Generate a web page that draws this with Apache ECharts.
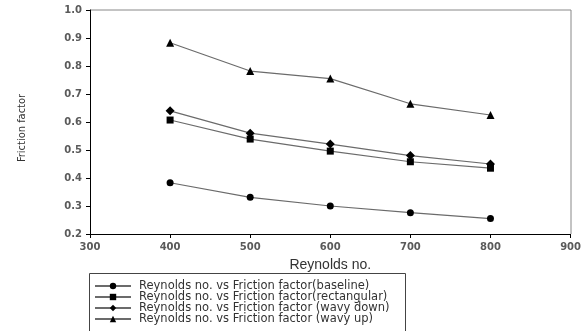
<!DOCTYPE html>
<html>
<head>
<meta charset="utf-8">
<script src="https://cdn.jsdelivr.net/npm/echarts@6/dist/echarts.min.js"></script>
<style>
  html, body { margin: 0; padding: 0; background: #fff; }
  #chart { width: 584px; height: 331px; }
</style>
</head>
<body>
<div id="chart"></div>
<script>
// Reynolds number (x) and friction factor for each configuration
const reynolds = [400, 500, 600, 700, 800];
const baseline = [0.383, 0.331, 0.300, 0.276, 0.255];
const rectangular = [0.607, 0.539, 0.496, 0.458, 0.435];
const wavyDown = [0.640, 0.560, 0.521, 0.480, 0.450];
const wavyUp = [0.883, 0.782, 0.755, 0.665, 0.625];
const seriesNames = [
  "Reynolds no. vs Friction factor(baseline)",
  "Reynolds no. vs Friction factor(rectangular)",
  "Reynolds no. vs Friction factor (wavy down)",
  "Reynolds no. vs Friction factor (wavy up)"
];

const myChart = echarts.init(document.getElementById("chart"));

function pairs(vals) {
  return reynolds.map((x, i) => [x, vals[i]]);
}

function makeSeries(name, vals, symbol, size) {
  return {
    name: name,
    type: "line",
    data: pairs(vals),
    symbol: symbol,
    symbolSize: size,
    showSymbol: true,
    lineStyle: { color: "#6b6b6b", width: 1.2 },
    itemStyle: { color: "#000" },
    emphasis: { disabled: true }
  };
}

const axisLabelStyle = {
  color: "#5a5a5a",
  fontFamily: "DejaVu Sans",
  fontWeight: "bold",
  fontSize: 10
};

const option = {
  animation: false,
  backgroundColor: "#fff",
  grid: { left: 90, right: 13, top: 10, bottom: 97 },
  xAxis: {
    type: "value",
    min: 300,
    max: 900,
    interval: 100,
    name: "Reynolds no.",
    nameLocation: "middle",
    nameGap: 24,
    nameTextStyle: {
      color: "#333",
      fontFamily: "Liberation Sans",
      fontSize: 14
    },
    axisLine: { show: true, lineStyle: { color: "#000", width: 1 } },
    axisTick: { show: true, length: 4, lineStyle: { color: "#000" } },
    axisLabel: Object.assign({ margin: 8 }, axisLabelStyle),
    splitLine: { show: false }
  },
  yAxis: {
    type: "value",
    min: 0.2,
    max: 1.0,
    interval: 0.1,
    name: "Friction factor",
    nameLocation: "middle",
    nameGap: 62,
    nameRotate: 90,
    nameTextStyle: {
      color: "#333",
      fontFamily: "'DejaVu Sans Condensed', 'Liberation Sans', sans-serif",
      fontSize: 11,
      padding: [0, 12, 0, 0]
    },
    axisLine: { show: true, lineStyle: { color: "#000", width: 1 } },
    axisTick: { show: true, length: 4, lineStyle: { color: "#000" } },
    axisLabel: Object.assign({
      margin: 8,
      formatter: v => v.toFixed(1)
    }, axisLabelStyle),
    splitLine: { show: false }
  },
  graphic: [
    {
      type: "polyline",
      shape: { points: [[90, 10], [571, 10], [571, 234]] },
      style: { stroke: "#888", lineWidth: 1, fill: null },
      silent: true
    },
    {
      type: "rect",
      shape: { x: 89.5, y: 273.5, width: 316, height: 70 },
      style: { stroke: "#444", lineWidth: 1, fill: null },
      silent: true
    }
  ],
  legend: {
    orient: "vertical",
    left: 94,
    top: 280,
    padding: 0,
    itemWidth: 36,
    itemHeight: 8,
    itemGap: -1,
    textStyle: {
      color: "#333",
      fontFamily: "DejaVu Sans",
      fontSize: 11.5,
      padding: [0, 0, 0, 3]
    },
    data: seriesNames
  },
  series: [
    makeSeries(seriesNames[0], baseline, "circle", 7),
    makeSeries(seriesNames[1], rectangular, "rect", 7),
    makeSeries(seriesNames[2], wavyDown, "diamond", 9),
    makeSeries(seriesNames[3], wavyUp, "triangle", 8)
  ]
};

myChart.setOption(option);
</script>
</body>
</html>
